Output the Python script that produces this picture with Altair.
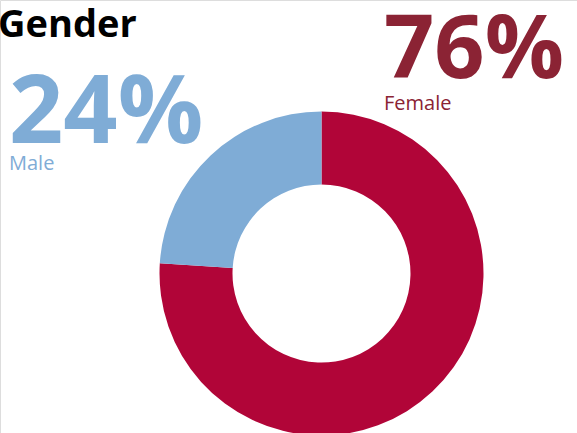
import altair as alt
import pandas as pd

categories = ["Female", "Male"]
values = [76, 24]
colors_slice = ["#B10538", "#7FACD6"]
colors_text = ["#8B2334", "#7FACD6"]
title_text = "Gender"

df = pd.DataFrame({
    "category": categories,
    "value": values,
    "pct": [f"{v}%" for v in values],
    "order": list(range(len(categories))),
})

W, H = 577, 433
CX, CY = 321.5, 273.5

base = alt.Chart(df)

donut = base.mark_arc(innerRadius=89, outerRadius=162).encode(
    theta=alt.Theta("value:Q", stack=True),
    order=alt.Order("order:Q"),
    color=alt.Color("category:N", scale=alt.Scale(domain=categories, range=colors_slice), legend=None),
    x=alt.value(CX),
    y=alt.value(CY),
)

FONT = "Open Sans"

def label_layers(cat, color, x, y_pct, y_name, pct_size, name_size):
    sub = base.transform_filter(alt.datum.category == cat)
    pct = sub.mark_text(align="left", baseline="alphabetic", font=FONT, fontWeight="bold",
                        fontSize=pct_size, color=color).encode(
        text="pct:N", x=alt.value(x), y=alt.value(y_pct))
    name = sub.mark_text(align="left", baseline="alphabetic", font=FONT, fontWeight="normal",
                         fontSize=name_size, color=color).encode(
        text="category:N", x=alt.value(x), y=alt.value(y_name))
    return [pct, name]

layers = [donut]
layers += label_layers("Female", colors_text[0], 384, 78, 110, 88, 20)
layers += label_layers("Male", colors_text[1], 9, 143, 170, 95, 20)

title = alt.Chart(pd.DataFrame({"t": [title_text]})).mark_text(
    align="left", baseline="alphabetic", font=FONT, fontWeight="bold", fontSize=38,
    color="#000000").encode(text="t:N", x=alt.value(-2), y=alt.value(37))
layers.append(title)

chart = alt.layer(*layers).properties(
    width=W, height=H, autosize=alt.AutoSizeParams(type="none"), padding=0,
).configure_view(stroke=None, strokeWidth=0).configure(background="white")

chart.save("out.html", embed_options={"renderer": "svg", "actions": False})
